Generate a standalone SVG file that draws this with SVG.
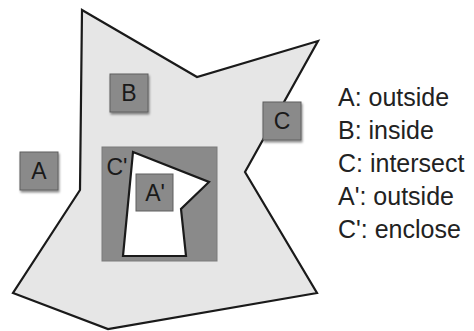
<svg xmlns="http://www.w3.org/2000/svg" width="474" height="331" viewBox="0 0 474 331">
  <defs>
    <filter id="shadow" x="-20%" y="-20%" width="150%" height="150%">
      <feDropShadow dx="1" dy="2" stdDeviation="1.2" flood-color="#000" flood-opacity="0.45"/>
    </filter>
  </defs>
  <style>
    .region { fill: #e6e6e6; stroke: #1a1a1a; stroke-width: 2.2; stroke-linejoin: miter; }
    .hole { fill: #ffffff; stroke: #1a1a1a; stroke-width: 2.2; }
    .box { fill: #8a8a8a; stroke: #5e5e5e; stroke-width: 1; }
    .bigbox { fill: #8a8a8a; stroke: #7a7a7a; stroke-width: 1; }
    .lbl { font-family: "Liberation Sans", Arial, sans-serif; font-size: 23px; fill: #1a1a1a; text-anchor: middle; }
    .legend { font-family: "Liberation Sans", Arial, sans-serif; font-size: 25px; fill: #222222; }
  </style>
  <g id="region">
    <polygon class="region" points="82,10 197,77 318,41 245,172 317,293 108,329 13,293 80,190"/>
  </g>
  <g id="C-prime">
    <rect class="bigbox" x="102" y="147" width="115" height="114"/>
    <polygon class="hole" points="133,152 209,182 181,209 186,256 123,256"/>
    <text class="lbl" x="117" y="175">C'</text>
  </g>
  <g id="A-prime">
    <rect class="box" x="136" y="174" width="37" height="37"/>
    <text class="lbl" x="155" y="201">A'</text>
  </g>
  <g id="A">
    <rect class="box" x="20" y="152" width="38" height="38" filter="url(#shadow)"/>
    <text class="lbl" x="39" y="179">A</text>
  </g>
  <g id="B">
    <rect class="box" x="110" y="74" width="38" height="38" filter="url(#shadow)"/>
    <text class="lbl" x="129" y="101">B</text>
  </g>
  <g id="C">
    <rect class="box" x="263" y="102" width="38" height="38" filter="url(#shadow)"/>
    <text class="lbl" x="282" y="129">C</text>
  </g>
  <g id="connectors"></g>
  <g id="legend">
    <text class="legend" x="338" y="106">A: outside</text>
    <text class="legend" x="338" y="139">B: inside</text>
    <text class="legend" x="338" y="172">C: intersect</text>
    <text class="legend" x="338" y="205">A': outside</text>
    <text class="legend" x="338" y="238">C': enclose</text>
  </g>
</svg>
